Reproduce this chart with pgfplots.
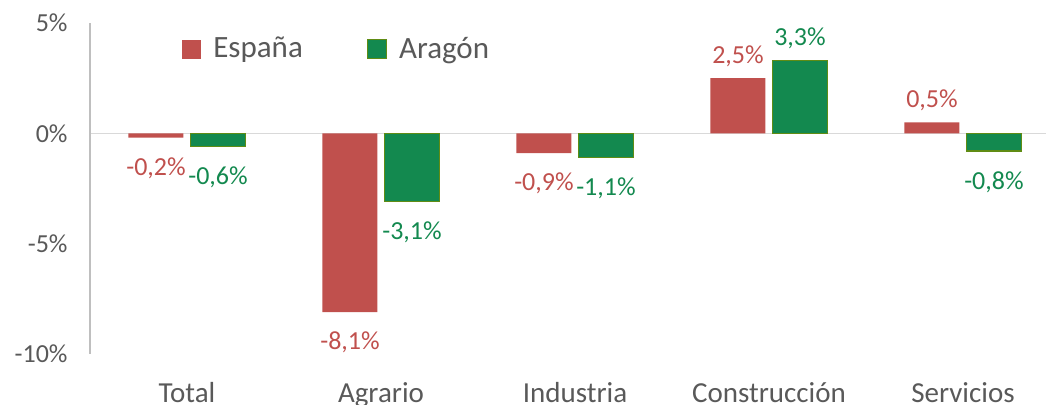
\documentclass[border=0pt]{standalone}
\usepackage{pgfplots}
\pgfplotsset{compat=1.18}
\usepackage{fontspec}
\setmainfont{Carlito}
\definecolor{espred}{RGB}{192,80,77}
\definecolor{aragreen}{RGB}{19,137,79}
\definecolor{aragedge}{RGB}{96,140,20}
\definecolor{txtgray}{RGB}{89,89,89}
\definecolor{axgray}{RGB}{191,191,191}
\definecolor{zerogray}{RGB}{217,217,217}
\begin{document}
\begin{tikzpicture}
\begin{axis}[
    ybar=3.5pt, bar width=27.5pt,
    scale only axis, width=478pt, height=165.5pt,
    xmin=-0.5, xmax=4.428, ymin=-10, ymax=5,
    xtick={0,1,2,3,4},
    xticklabels={Total,Agrario,Industria,Construcción,Servicios},
    ytick={-10,-5,0,5},
    major tick length=0pt,
    axis line style={draw=none},
    /pgf/number format/assume math mode=true,
    yticklabel={\pgfmathprintnumber{\tick}\%},
    yticklabel style={font=\fontsize{13pt}{15pt}\selectfont, text=txtgray, xshift=-7.7pt},
    xticklabel style={font=\fontsize{14.5pt}{16pt}\selectfont, text=txtgray, yshift=-10.5pt},
    visualization depends on={rawy \as \ry},
    nodes near coords={\pgfmathprintnumber[fixed, fixed zerofill, precision=1, use comma]{\pgfplotspointmeta}\%},
    nodes near coords align={vertical},
    nodes near coords style={font=\fontsize{13pt}{15pt}\selectfont, yshift={ifthenelse(\ry<0,-6.5,2)}},
    legend columns=2,
    legend style={at={(rel axis cs:0.0962,0.921)}, anchor=west, draw=none, fill=none, inner sep=0pt,
        font=\fontsize{15.5pt}{18pt}\selectfont, text=txtgray,
        /tikz/every odd column/.append style={column sep=4pt},
        /tikz/every even column/.append style={column sep=30pt}},
    legend image code/.code={\path[#1] (0pt,-4.75pt) rectangle (9.5pt,4.75pt);},
    clip=false,
]
\draw[zerogray, line width=0.8pt] (axis cs:-0.5,0) -- (axis cs:4.428,0);
\draw[axgray, line width=0.6pt] (rel axis cs:0,0) -- (rel axis cs:0,1);
\coordinate (O) at (rel axis cs:0,0);
\addplot[fill=espred, draw=none, every node near coord/.append style={text=espred}]
    coordinates {(0,-0.2) (1,-8.1) (2,-0.9) (3,2.5) (4,0.5)};
\addplot[fill=aragreen, draw=aragedge, line width=0.6pt, every node near coord/.append style={text=aragreen}]
    coordinates {(0,-0.6) (1,-3.1) (2,-1.1) (3,3.3) (4,-0.8)};
\legend{España,Aragón}
\end{axis}
\pgfresetboundingbox
\path[use as bounding box] ([shift={(-45pt,-25.5pt)}]O) rectangle ([shift={(478pt,177pt)}]O);
\end{tikzpicture}
\end{document}
